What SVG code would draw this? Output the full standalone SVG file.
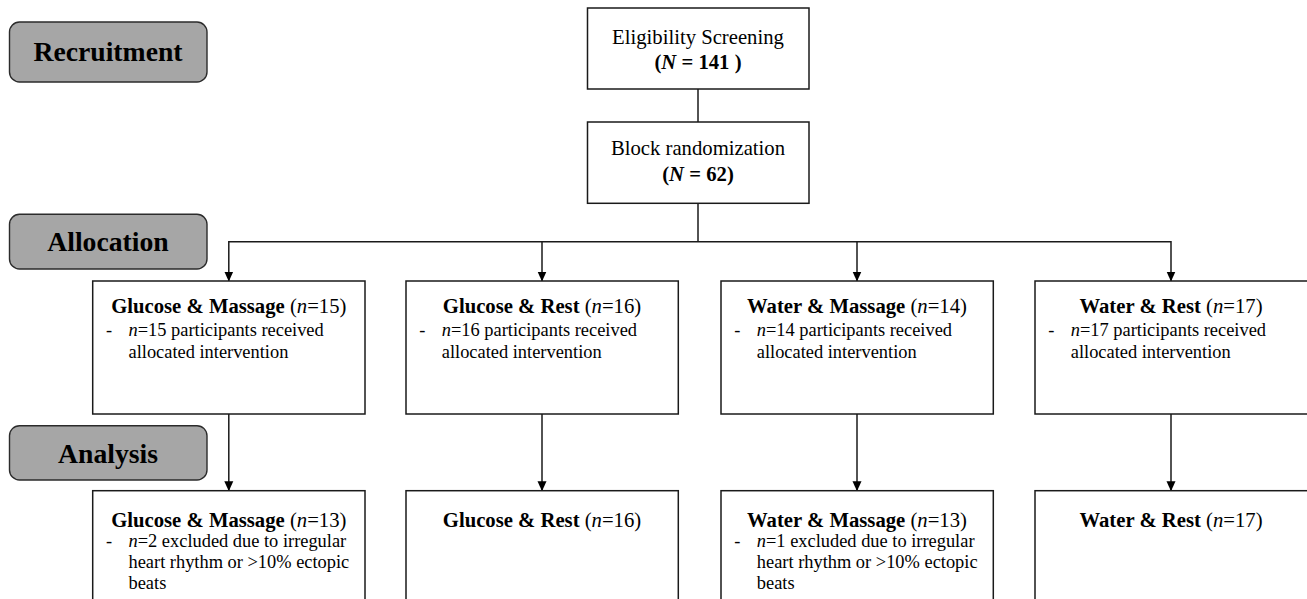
<svg xmlns="http://www.w3.org/2000/svg" width="1307" height="599" viewBox="0 0 1307 599">
<style>
text{font-family:"Liberation Serif","Times New Roman",serif;fill:#000}
.lab rect{fill:#a6a6a6;stroke:#2b2b2b;stroke-width:1.4}
.lab text{font-size:27.7px;font-weight:bold;text-anchor:middle}
.box rect{fill:#fff;stroke:#1a1a1a;stroke-width:1.5}
.nt{font-size:20.7px;text-anchor:middle}
.ti{font-size:20.7px;text-anchor:middle}
.bd{font-size:18.4px}
.b{font-weight:bold}
.i{font-style:italic}
.conn line,.conn path{stroke:#1a1a1a;stroke-width:1.5;fill:none}
</style>
<defs>
<marker id="ah" markerWidth="10" markerHeight="11" refX="9.5" refY="5" orient="auto" markerUnits="userSpaceOnUse" viewBox="0 0 10 10">
<path d="M0,0.5 L10,5 L0,9.5 Z" fill="#000"/>
</marker>
</defs>

<g id="lab-recruitment" class="lab"><rect x="9.5" y="22" width="197.5" height="60" rx="10"/><text x="108" y="61">Recruitment</text></g>
<g id="lab-allocation" class="lab"><rect x="9.5" y="214.3" width="197.5" height="54.7" rx="10"/><text x="108" y="251">Allocation</text></g>
<g id="lab-analysis" class="lab"><rect x="9.5" y="425.7" width="197.5" height="54.3" rx="10"/><text x="108" y="462.5">Analysis</text></g>

<g class="conn" id="connectors">
<line x1="698" y1="89" x2="698" y2="122"/>
<line x1="698" y1="203" x2="698" y2="241.7"/>
<line x1="228.8" y1="241.7" x2="1171" y2="241.7"/>
<line x1="228.8" y1="241" x2="228.8" y2="281" marker-end="url(#ah)"/>
<line x1="542" y1="241.7" x2="542" y2="281" marker-end="url(#ah)"/>
<line x1="857" y1="241.7" x2="857" y2="281" marker-end="url(#ah)"/>
<line x1="1171" y1="241" x2="1171" y2="281" marker-end="url(#ah)"/>
<line x1="228.8" y1="414" x2="228.8" y2="490.7" marker-end="url(#ah)"/>
<line x1="542" y1="414" x2="542" y2="490.7" marker-end="url(#ah)"/>
<line x1="857" y1="414" x2="857" y2="490.7" marker-end="url(#ah)"/>
<line x1="1171" y1="414" x2="1171" y2="490.7" marker-end="url(#ah)"/>
</g>

<g id="eligibility" class="box"><rect x="587.5" y="8" width="221.5" height="81"/>
<text class="nt" x="698" y="43.5">Eligibility Screening</text>
<text class="nt b" x="698" y="69">(<tspan class="i">N</tspan> = 141 )</text></g>

<g id="randomization" class="box"><rect x="587.5" y="122" width="221.5" height="81.3"/>
<text class="nt" x="698" y="155">Block randomization</text>
<text class="nt b" x="698" y="180.5">(<tspan class="i">N</tspan> = 62)</text></g>

<g id="alloc-gm" class="box"><rect x="92.7" y="281" width="272.3" height="133"/>
<text class="ti" x="228.8" y="313.3"><tspan class="b">Glucose &amp; Massage</tspan> (<tspan class="i">n</tspan>=15)</text>
<text class="bd" x="106" y="336">-</text>
<text class="bd" x="128.5" y="336"><tspan class="i">n</tspan>=15 participants received</text>
<text class="bd" x="128.5" y="358.3">allocated intervention</text></g>

<g id="alloc-gr" class="box"><rect x="406" y="281" width="272.3" height="133"/>
<text class="ti" x="542" y="313.3"><tspan class="b">Glucose &amp; Rest</tspan> (<tspan class="i">n</tspan>=16)</text>
<text class="bd" x="419.3" y="336">-</text>
<text class="bd" x="441.8" y="336"><tspan class="i">n</tspan>=16 participants received</text>
<text class="bd" x="441.8" y="358.3">allocated intervention</text></g>

<g id="alloc-wm" class="box"><rect x="721" y="281" width="272.3" height="133"/>
<text class="ti" x="857" y="313.3"><tspan class="b">Water &amp; Massage</tspan> (<tspan class="i">n</tspan>=14)</text>
<text class="bd" x="734.3" y="336">-</text>
<text class="bd" x="756.8" y="336"><tspan class="i">n</tspan>=14 participants received</text>
<text class="bd" x="756.8" y="358.3">allocated intervention</text></g>

<g id="alloc-wr" class="box"><rect x="1035" y="281" width="274" height="133"/>
<text class="ti" x="1171" y="313.3"><tspan class="b">Water &amp; Rest</tspan> (<tspan class="i">n</tspan>=17)</text>
<text class="bd" x="1048.3" y="336">-</text>
<text class="bd" x="1070.8" y="336"><tspan class="i">n</tspan>=17 participants received</text>
<text class="bd" x="1070.8" y="358.3">allocated intervention</text></g>

<g id="anal-gm" class="box"><rect x="92.7" y="490.7" width="272.3" height="120"/>
<text class="ti" x="228.8" y="527.3"><tspan class="b">Glucose &amp; Massage</tspan> (<tspan class="i">n</tspan>=13)</text>
<text class="bd" x="106" y="546.7">-</text>
<text class="bd" x="128.5" y="546.7"><tspan class="i">n</tspan>=2 excluded due to irregular</text>
<text class="bd" x="128.5" y="568">heart rhythm or &gt;10% ectopic</text>
<text class="bd" x="128.5" y="589">beats</text></g>

<g id="anal-gr" class="box"><rect x="406" y="490.7" width="272.3" height="120"/>
<text class="ti" x="542" y="527.3"><tspan class="b">Glucose &amp; Rest</tspan> (<tspan class="i">n</tspan>=16)</text></g>

<g id="anal-wm" class="box"><rect x="721" y="490.7" width="272.3" height="120"/>
<text class="ti" x="857" y="527.3"><tspan class="b">Water &amp; Massage</tspan> (<tspan class="i">n</tspan>=13)</text>
<text class="bd" x="734.3" y="546.7">-</text>
<text class="bd" x="756.8" y="546.7"><tspan class="i">n</tspan>=1 excluded due to irregular</text>
<text class="bd" x="756.8" y="568">heart rhythm or &gt;10% ectopic</text>
<text class="bd" x="756.8" y="589">beats</text></g>

<g id="anal-wr" class="box"><rect x="1035" y="490.7" width="274" height="120"/>
<text class="ti" x="1171" y="527.3"><tspan class="b">Water &amp; Rest</tspan> (<tspan class="i">n</tspan>=17)</text></g>
</svg>
